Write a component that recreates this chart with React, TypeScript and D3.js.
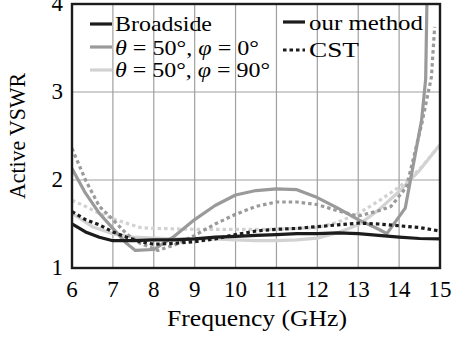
import React, { useEffect, useRef } from 'react';
import * as d3 from 'd3';

// tick labels
const xTicks = [6, 7, 8, 9, 10, 11, 12, 13, 14, 15];
const yTicks = [1, 2, 3, 4];

// [frequency GHz, active VSWR]
const broadsideOur: [number, number][] = [
  [6, 1.5], [6.33, 1.41], [6.67, 1.35], [7, 1.31], [7.5, 1.31], [8, 1.32], [8.5, 1.32],
  [9, 1.33], [9.5, 1.35], [10, 1.36], [10.5, 1.37], [11, 1.38], [11.5, 1.39], [12, 1.39],
  [12.5, 1.4], [13, 1.39], [13.5, 1.37], [14, 1.35], [14.5, 1.335], [15, 1.33],
];
const broadsideCst: [number, number][] = [
  [6, 1.64], [6.33, 1.55], [6.67, 1.49], [7, 1.41], [7.33, 1.35], [7.67, 1.3], [8, 1.27],
  [8.5, 1.28], [9, 1.3], [9.5, 1.33], [10, 1.38], [10.5, 1.42], [11, 1.44], [11.5, 1.45],
  [12, 1.47], [12.5, 1.49], [13, 1.51], [13.5, 1.5], [14, 1.48], [14.5, 1.46], [15, 1.42],
];
const phi0Our: [number, number][] = [
  [6, 2.13], [6.33, 1.85], [6.67, 1.62], [7, 1.45], [7.33, 1.28], [7.55, 1.2], [8, 1.21],
  [8.5, 1.36], [9, 1.55], [9.5, 1.71], [10, 1.83], [10.5, 1.88], [11, 1.9], [11.5, 1.89],
  [12, 1.8], [12.5, 1.68], [13, 1.55], [13.5, 1.44], [13.7, 1.39], [14.15, 1.68],
  [14.55, 2.68], [14.65, 3.15], [14.69, 4.3],
];
const phi0Cst: [number, number][] = [
  [6, 2.36], [6.33, 2.0], [6.67, 1.7], [7, 1.55], [7.33, 1.39], [7.67, 1.28], [8.1, 1.2],
  [8.5, 1.26], [9, 1.37], [9.5, 1.5], [10, 1.61], [10.5, 1.7], [11, 1.75], [11.5, 1.75],
  [12, 1.72], [12.5, 1.65], [13, 1.59], [13.5, 1.65], [13.8, 1.7], [14.18, 1.92],
  [14.55, 2.63], [14.79, 3.17], [14.87, 3.74],
];
const phi90Our: [number, number][] = [
  [6, 1.62], [6.5, 1.47], [7, 1.39], [7.5, 1.35], [8, 1.34], [8.5, 1.33], [9, 1.33],
  [9.5, 1.33], [10, 1.32], [10.5, 1.31], [11, 1.31], [11.5, 1.32], [12, 1.34], [12.5, 1.4],
  [13, 1.49], [13.5, 1.66], [14, 1.87], [14.5, 2.11], [15, 2.4],
];
const phi90Cst: [number, number][] = [
  [6, 1.77], [6.33, 1.7], [6.67, 1.62], [7, 1.56], [7.33, 1.51], [7.67, 1.46], [8, 1.45],
  [9, 1.44], [10, 1.44], [11, 1.44], [12, 1.46], [12.5, 1.52], [13, 1.62], [13.5, 1.76],
  [14, 1.92], [14.5, 2.12], [15, 2.4],
];

const BLACK = '#1c1c1c';
const MID = '#9a9a9a';
const LIGHT = '#d2d2d2';
const SERIF = { fontFamily: 'Liberation Serif' };

const W = 454;
const H = 338;
const left = 72;
const right = 440;
const top = 4;
const bottom = 268;

export default function App() {
  const svgRef = useRef<SVGSVGElement>(null);

  useEffect(() => {
    document.body.style.margin = '0';
    // force the serif face on every text node
    d3.select(svgRef.current).selectAll<SVGElement, unknown>('text, tspan')
      .each(function () {
        this.style.setProperty('font-family', "'Liberation Serif', serif", 'important');
      });
  }, []);

  const x = d3.scaleLinear().domain([6, 15]).range([left, right]);
  const y = d3.scaleLinear().domain([1, 4]).range([bottom, top]);
  const line = d3.line<[number, number]>().x(d => x(d[0])).y(d => y(d[1]));

  // drawn light to dark so the black curves stay on top
  const series = [
    { data: phi90Cst, color: LIGHT, dash: '3.5,3' },
    { data: phi90Our, color: LIGHT, dash: null },
    { data: phi0Cst, color: MID, dash: '3.5,3' },
    { data: phi0Our, color: MID, dash: null },
    { data: broadsideCst, color: BLACK, dash: '3.5,3' },
    { data: broadsideOur, color: BLACK, dash: null },
  ];

  const fs = 23;
  const lfs = 21;

  return (
    <svg ref={svgRef} width={W} height={H} style={{ display: 'block', background: '#fff' }}>
      <defs>
        <clipPath id="plot">
          <rect x={left} y={top} width={right - left} height={bottom - top} />
        </clipPath>
      </defs>
      {/* grid */}
      {xTicks.slice(1, -1).map(t => (
        <line key={'gx' + t} x1={x(t)} x2={x(t)} y1={top} y2={bottom} stroke="#a0a0a0" strokeWidth={1.2} />
      ))}
      {yTicks.slice(1, -1).map(t => (
        <line key={'gy' + t} x1={left} x2={right} y1={y(t)} y2={y(t)} stroke="#a0a0a0" strokeWidth={1.2} />
      ))}
      {/* series */}
      <g clipPath="url(#plot)">
        {series.map((s, i) => (
          <path key={i} d={line(s.data) || ''} fill="none" stroke={s.color} strokeWidth={3.2}
            strokeDasharray={s.dash || undefined} strokeLinejoin="round" />
        ))}
      </g>
      {/* frame */}
      <rect x={left} y={top} width={right - left} height={bottom - top} fill="none" stroke={BLACK} strokeWidth={2.4} />
      {/* tick labels */}
      {xTicks.map(t => (
        <text key={'tx' + t} x={x(t)} y={297} fontSize={fs} textAnchor="middle" style={SERIF}>{t}</text>
      ))}
      {yTicks.map(t => (
        <text key={'ty' + t} x={63} y={y(t) + 7} fontSize={fs} textAnchor="end" style={SERIF}>{t}</text>
      ))}
      <text x={(left + right) / 2 + 1} y={326} fontSize={fs} textAnchor="middle" style={SERIF}
        textLength={180} lengthAdjust="spacingAndGlyphs">Frequency (GHz)</text>
      <text transform={`translate(25,${(top + bottom) / 2}) rotate(-90)`} fontSize={fs} textAnchor="middle" style={SERIF}
        textLength={126} lengthAdjust="spacingAndGlyphs">Active VSWR</text>
      {/* legend: excitation */}
      <line x1={90} x2={112} y1={24} y2={24} stroke={BLACK} strokeWidth={3.2} />
      <text x={115} y={30.5} fontSize={lfs} style={SERIF} textLength={97} lengthAdjust="spacingAndGlyphs">Broadside</text>
      <line x1={90} x2={112} y1={47} y2={47} stroke={MID} strokeWidth={3.2} />
      <text x={115} y={54.5} fontSize={lfs} style={SERIF} textLength={144} lengthAdjust="spacingAndGlyphs">
        <tspan fontStyle="italic">θ</tspan> = 50°, <tspan fontStyle="italic">φ</tspan> = 0°
      </text>
      <line x1={90} x2={112} y1={70} y2={70} stroke={LIGHT} strokeWidth={3.2} />
      <text x={115} y={76.5} fontSize={lfs} style={SERIF} textLength={155} lengthAdjust="spacingAndGlyphs">
        <tspan fontStyle="italic">θ</tspan> = 50°, <tspan fontStyle="italic">φ</tspan> = 90°
      </text>
      {/* legend: method */}
      <line x1={283} x2={305} y1={22} y2={22} stroke={BLACK} strokeWidth={3.2} />
      <text x={309} y={29.5} fontSize={lfs} style={SERIF} textLength={114} lengthAdjust="spacingAndGlyphs">our method</text>
      <line x1={283} x2={305} y1={50} y2={50} stroke={BLACK} strokeWidth={3.2} strokeDasharray="3.5,3" />
      <text x={309} y={57} fontSize={lfs} style={SERIF} textLength={50} lengthAdjust="spacingAndGlyphs">CST</text>
    </svg>
  );
}
